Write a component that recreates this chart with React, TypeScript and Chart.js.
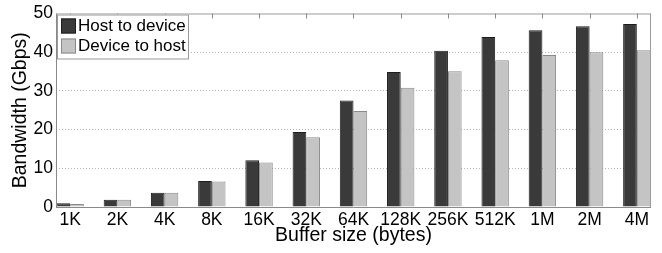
import React, { useEffect, useRef } from 'react';
import { Chart, registerables } from 'chart.js';

Chart.register(...registerables);

const categories = ['1K', '2K', '4K', '8K', '16K', '32K', '64K', '128K', '256K', '512K', '1M', '2M', '4M'];
const hostToDevice = [1.0, 1.9, 3.7, 6.7, 12.1, 19.4, 27.5, 34.9, 40.4, 43.9, 45.7, 46.7, 47.3];
const deviceToHost = [0.8, 1.9, 3.7, 6.6, 11.5, 18.0, 24.8, 30.8, 35.1, 37.9, 39.3, 40.0, 40.5];
const seriesLabels = ['Host to device', 'Device to host'];
const yMin = 0;
const yMax = 50;
const yStep = 10;

const FONT = "'Liberation Sans', Arial, Helvetica, sans-serif";

const framePlugin = {
  id: 'frame',
  afterDatasetsDraw(chart: any) {
    const { ctx, chartArea } = chart;
    const { left, right, top, bottom } = chartArea;
    ctx.save();
    ctx.lineWidth = 1;
    ctx.setLineDash([]);
    ctx.strokeStyle = '#9a9a9a';
    ctx.beginPath();
    ctx.moveTo(left, top + 0.5);
    ctx.lineTo(right, top + 0.5);
    ctx.moveTo(right - 0.5, top);
    ctx.lineTo(right - 0.5, bottom);
    ctx.stroke();
    ctx.strokeStyle = '#8a8a8a';
    ctx.beginPath();
    ctx.moveTo(left + 0.5, top);
    ctx.lineTo(left + 0.5, bottom + 1);
    ctx.moveTo(left, bottom + 0.5);
    ctx.lineTo(right, bottom + 0.5);
    ctx.stroke();
    const xs = chart.scales.x;
    ctx.strokeStyle = '#8a8a8a';
    ctx.beginPath();
    categories.forEach((_, i) => {
      const px = Math.round(xs.getPixelForValue(i + 1)) + 0.5;
      ctx.moveTo(px, top);
      ctx.lineTo(px, top + 5);
    });
    ctx.stroke();
    ctx.restore();
  },
};

const legendPlugin = {
  id: 'boxLegend',
  afterDraw(chart: any) {
    const { ctx, chartArea } = chart;
    const x0 = chartArea.left + 1;
    const y0 = chartArea.top + 1;
    ctx.save();
    ctx.setLineDash([]);
    ctx.fillStyle = '#ffffff';
    ctx.fillRect(x0, y0, 132, 45);
    ctx.strokeStyle = '#999999';
    ctx.lineWidth = 1;
    ctx.strokeRect(x0 + 0.5, y0 + 0.5, 131, 44);
    ctx.font = `17px ${FONT}`;
    ctx.textBaseline = 'middle';
    ctx.textAlign = 'left';
    chart.data.datasets.forEach((ds: any, i: number) => {
      const sy = y0 + 4 + i * 20;
      ctx.fillStyle = ds.backgroundColor;
      ctx.fillRect(x0 + 4, sy, 15, 15);
      ctx.strokeStyle = ds.borderColor;
      ctx.strokeRect(x0 + 4.5, sy + 0.5, 14, 14);
      ctx.fillStyle = '#000000';
      ctx.fillText(ds.label, x0 + 21, sy + 8);
    });
    ctx.restore();
  },
};

export default function App() {
  const canvasRef = useRef<HTMLCanvasElement>(null);

  useEffect(() => {
    document.body.style.margin = '0';
    const canvas = canvasRef.current;
    if (!canvas) return;
    const chart = new Chart(canvas, {
      type: 'bar',
      data: {
        datasets: [
          {
            label: seriesLabels[0],
            data: categories.map((_, i) => ({ x: i + 1, y: hostToDevice[i] })),
            backgroundColor: '#3a3a3a',
            borderColor: '#1e1e1e',
            borderWidth: 1,
            categoryPercentage: 0.58,
            barPercentage: 1.0,
          },
          {
            label: seriesLabels[1],
            data: categories.map((_, i) => ({ x: i + 1, y: deviceToHost[i] })),
            backgroundColor: '#c4c4c4',
            borderColor: '#8a8a8a',
            borderWidth: 1,
            categoryPercentage: 0.58,
            barPercentage: 1.0,
          },
        ],
      } as any,
      options: {
        responsive: false,
        animation: false,
        devicePixelRatio: 1,
        layout: { padding: { top: 12, right: 11, left: 0, bottom: 0 } },
        plugins: {
          legend: { display: false },
          tooltip: { enabled: false },
        },
        scales: {
          x: {
            type: 'linear',
            min: 0.7,
            max: 13.3,
            offset: false,
            grid: { display: false, drawTicks: false, offset: false },
            border: { display: false },
            afterBuildTicks: (scale: any) => {
              scale.ticks = categories.map((_, i) => ({ value: i + 1 }));
            },
            afterFit: (scale: any) => {
              scale.height = 46;
            },
            ticks: {
              autoSkip: false,
              maxRotation: 0,
              minRotation: 0,
              padding: 2.5,
              color: '#000',
              font: { family: FONT, size: 17.5 },
              callback: (value: any) => categories[Math.round(Number(value)) - 1] ?? '',
            },
            title: {
              display: true,
              text: 'Buffer size (bytes)',
              color: '#000',
              font: { family: FONT, size: 19.5 },
              padding: { top: 0, bottom: 6 },
            },
          },
          y: {
            min: yMin,
            max: yMax,
            grid: {
              drawTicks: false,
              color: (ctx: any) =>
                ctx.tick && (ctx.tick.value === yMin || ctx.tick.value === yMax) ? 'rgba(0,0,0,0)' : '#b4b4b4',
              lineWidth: 1,
            },
            border: { display: false, dash: [1, 2] },
            afterFit: (scale: any) => {
              scale.width = 56;
            },
            ticks: {
              stepSize: yStep,
              padding: 3,
              color: '#000',
              font: { family: FONT, size: 17.5 },
            },
            title: {
              display: true,
              text: 'Bandwidth (Gbps)',
              color: '#000',
              font: { family: FONT, size: 19.5 },
              padding: { top: 9, bottom: 0 },
            },
          },
        },
      } as any,
      plugins: [framePlugin, legendPlugin],
    });
    return () => chart.destroy();
  }, []);

  return (
    <div style={{ width: 662, height: 253 }}>
      <canvas ref={canvasRef} width={662} height={253} />
    </div>
  );
}
